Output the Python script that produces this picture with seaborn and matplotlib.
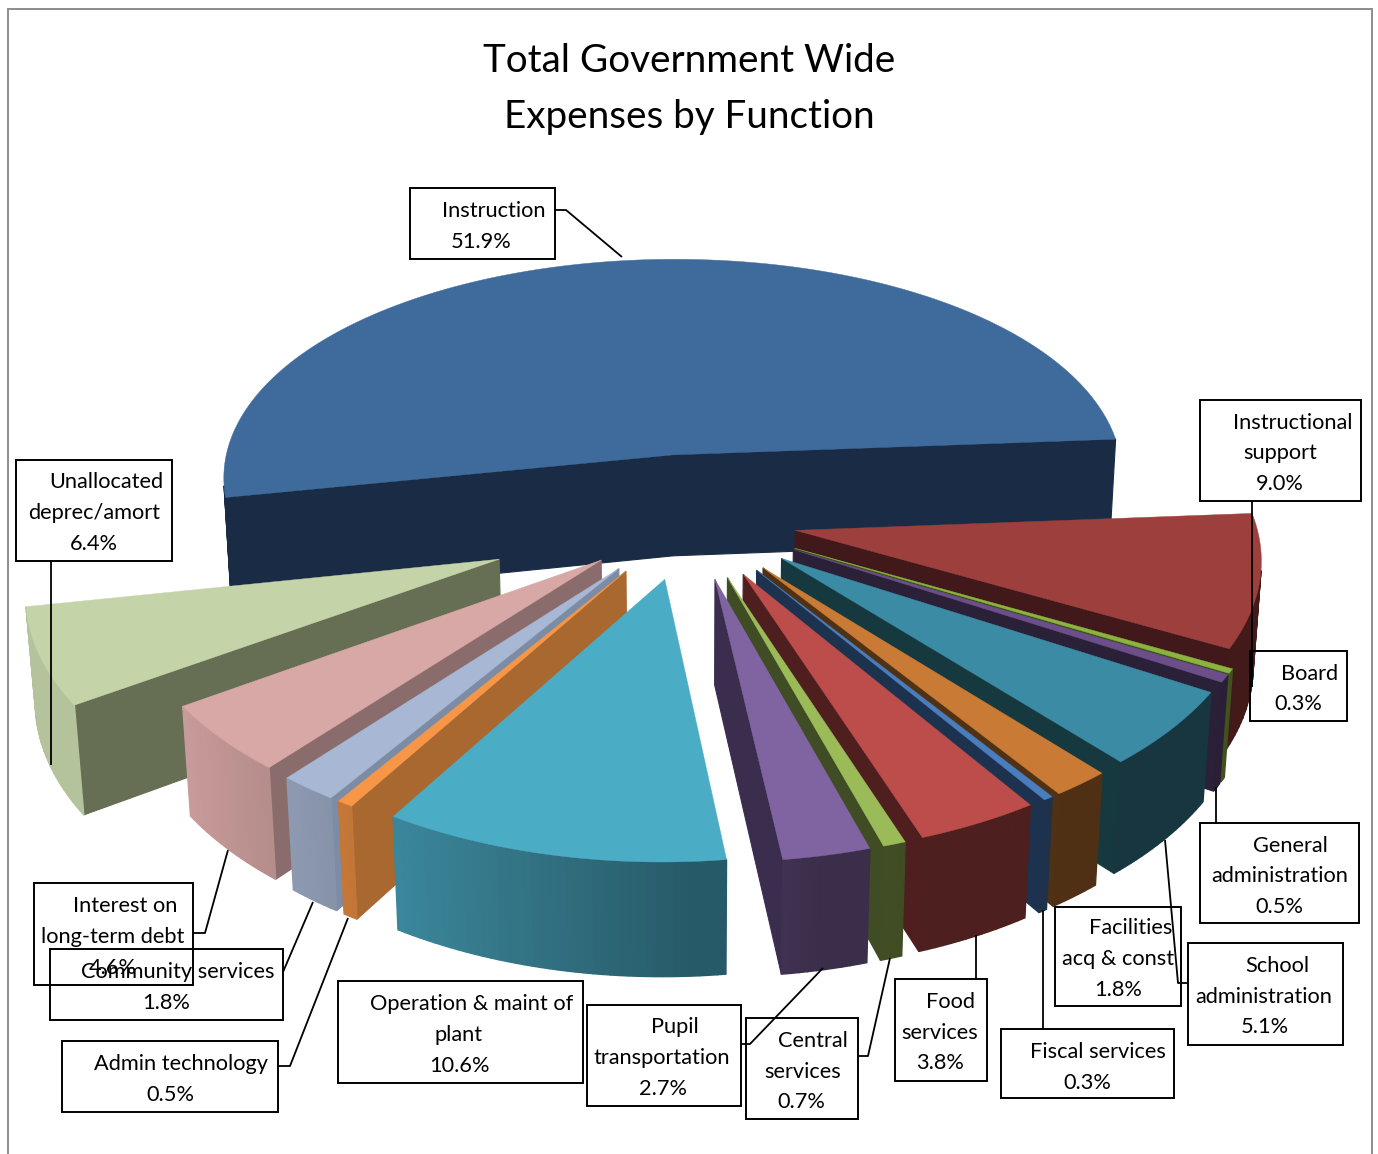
import numpy as np
import matplotlib
matplotlib.use("Agg")
import matplotlib.pyplot as plt
from matplotlib.patches import Polygon, Rectangle
import seaborn as sns

# ---- data -----------------------------------------------------------------
functions = ["Instruction", "Instructional support", "Board", "General administration",
             "School administration", "Facilities acq & const", "Fiscal services",
             "Food services", "Central services", "Pupil transportation",
             "Operation & maint of plant", "Admin technology", "Community services",
             "Interest on long-term debt", "Unallocated deprec/amort"]
shares = [51.9, 9.0, 0.3, 0.5, 5.1, 1.8, 0.3, 3.8, 0.7, 2.7, 10.6, 0.5, 1.8, 4.6, 6.4]
label_lines = [["Instruction"], ["Instructional", "support"], ["Board"],
               ["General", "administration"], ["School", "administration"],
               ["Facilities", "acq & const"], ["Fiscal services"], ["Food", "services"],
               ["Central", "services"], ["Pupil", "transportation"],
               ["Operation & maint of", "plant"], ["Admin technology"],
               ["Community services"], ["Interest on", "long-term debt"],
               ["Unallocated", "deprec/amort"]]

# ---- styling --------------------------------------------------------------
top_colors = ["#3e6a9c", "#9c3f3d", "#8ab33f", "#6b4e8a", "#3a8ba3", "#c97a35", "#4a7dbd",
              "#bd4d4b", "#9bbb59", "#8064a2", "#4bacc6", "#f79646", "#a8b8d4", "#d8a8a6",
              "#c4d4a8"]
cut_colors = ["#1a2c45", "#42191a", "#3f4d23", "#2a2037", "#16383f", "#4f3115", "#1c324e",
              "#4f1e1e", "#3f4c24", "#3b2d4d", "#255a6b", "#a86830", "#7c8ca4", "#8a6c6c",
              "#666e53"]
explode = [132, 107, 118, 118, 118, 118, 118, 118, 118, 118, 118, 118, 118, 118, 203]

START_DEG = -101.0
CX, CY, RADIUS, THICK = 690.0, 519.0, 460.0, 105.0
TILT, DIST, DROP, WIDEN = 0.507, 3850.0, 0.6, 0.87

sns.set_theme(style="white")
plt.rcParams["font.family"] = ["Lato", "DejaVu Sans"]
top_palette = sns.color_palette(top_colors)
cut_palette = sns.color_palette(cut_colors)


def project(x, y, z):
    """Perspective view of a ground point; z is 0 on top and negative below."""
    depth = 1.0 + (y - DROP * z) / DIST
    return CX + x / depth ** WIDEN, CY - (y * TILT + z) / depth


def cross(a, b, c):
    return (b[0] - a[0]) * (c[1] - b[1]) - (b[1] - a[1]) * (c[0] - b[0])


def wall_tone(theta, base, cut, lit):
    """Outer rim colour: lit on the west, falling to the cut-face tone on the east."""
    if not lit:
        return cut
    f = np.clip(0.55 - 0.45 * np.sin(theta), 0.0, 0.92)
    floor = np.mean(cut) / max(np.mean(base), 1e-3)
    f = max(f, floor)
    return tuple(np.clip(np.array(base) * f, 0, 1))


def draw_slice(ax, a, b, offset, base, cut, lit=True):
    mid = 0.5 * (a + b)
    ox, oy = offset * np.sin(mid), offset * np.cos(mid)
    thetas = np.linspace(a, b, max(3, int(np.degrees(b - a)) + 2))
    xs = ox + RADIUS * np.sin(thetas)
    ys = oy + RADIUS * np.cos(thetas)

    apex_t, apex_b = project(ox, oy, 0), project(ox, oy, -THICK)
    rim_t = [project(x, y, 0) for x, y in zip(xs, ys)]
    rim_b = [project(x, y, -THICK) for x, y in zip(xs, ys)]

    # radial cut faces
    if cross(apex_t, rim_t[0], rim_b[0]) < 0:
        ax.add_patch(Polygon([apex_t, rim_t[0], rim_b[0], apex_b], fc=cut, ec=cut, lw=0.8, zorder=1))
    if cross(apex_t, rim_t[-1], rim_b[-1]) > 0:
        ax.add_patch(Polygon([apex_t, rim_t[-1], rim_b[-1], apex_b], fc=cut, ec=cut, lw=0.8, zorder=1))
    # outer rim, facet by facet
    for i in range(len(thetas) - 1):
        if cross(rim_t[i], rim_t[i + 1], rim_b[i + 1]) < 0:
            tone = wall_tone(0.5 * (thetas[i] + thetas[i + 1]), base, cut, lit)
            ax.add_patch(Polygon([rim_t[i], rim_t[i + 1], rim_b[i + 1], rim_b[i]],
                                 fc=tone, ec=tone, lw=1.0, zorder=1))
    # top face
    ax.add_patch(Polygon([apex_t] + rim_t, fc=base, ec=base, lw=0.3, zorder=1))


fig = plt.figure(figsize=(13.78, 11.54), dpi=100, facecolor="white")
ax = fig.add_axes([0, 0, 1, 1])
ax.set_xlim(0, 1378)
ax.set_ylim(1154, 0)
ax.axis("off")

ax.add_patch(Rectangle((8, 9), 1364, 1160, fc="white", ec="#8c8c8c", lw=1.4, zorder=0))

edges = np.radians(START_DEG + np.concatenate([[0.0], np.cumsum(shares)]) * 3.6)
# back slice first, then inward from both sides towards the viewer
paint_order = [0, 1, 2, 3, 4, 5, 6, 7, 8, 9, 14, 13, 12, 11, 10]
for i in paint_order:
    draw_slice(ax, edges[i], edges[i + 1], explode[i], top_palette[i], cut_palette[i], lit=i != 0)

ax.text(689, 61, "Total Government Wide", ha="center", va="center", fontsize=27.8, color="black")
ax.text(689, 117, "Expenses by Function", ha="center", va="center", fontsize=27.8, color="black")

# callout boxes: left, top, right, bottom
boxes = [(410, 188, 555, 259), (1200, 400, 1361, 501), (1250, 651, 1347, 721),
         (1200, 823, 1359, 923), (1188, 943, 1343, 1045), (1055, 907, 1181, 1006),
         (1001, 1029, 1174, 1098), (895, 979, 987, 1081), (746, 1018, 858, 1119),
         (587, 1005, 741, 1106), (338, 981, 583, 1083), (62, 1041, 278, 1112),
         (50, 949, 283, 1020), (34, 883, 193, 985), (16, 460, 172, 561)]
# centre of each text line inside a box
line_xy = [[(494, 211), (481, 242)], [(1293, 423), (1280, 453), (1280, 484)],
           [(1310, 674), (1298, 704)], [(1290, 846), (1280, 876), (1279, 907)],
           [(1277, 966), (1264, 997), (1265, 1027)], [(1131, 928), (1118, 959), (1118, 990)],
           [(1098, 1052), (1087, 1083)], [(951, 1002), (940, 1033), (940, 1063)],
           [(813, 1041), (803, 1072), (801, 1102)], [(675, 1027), (662, 1058), (663, 1089)],
           [(472, 1004), (459, 1035), (459, 1066)], [(181, 1064), (170, 1095)],
           [(178, 972), (166, 1003)], [(125, 906), (113, 937), (113, 968)],
           [(106, 482), (94, 513), (94, 544)]]
leaders = [[(555, 210), (566, 210), (622, 257)], [(1252, 501), (1252, 687)], None,
           [(1216, 823), (1216, 787)], [(1188, 983), (1178, 983), (1165, 840)], None,
           [(1043, 1029), (1043, 910)], [(976, 979), (976, 935)],
           [(858, 1056), (868, 1056), (890, 958)], [(741, 1044), (750, 1044), (823, 968)],
           None, [(278, 1066), (290, 1066), (348, 918)], [(283, 972), (313, 902)],
           [(193, 933), (205, 933), (228, 850)], [(51, 561), (51, 765)]]

for lines, share, box, centres, leader in zip(label_lines, shares, boxes, line_xy, leaders):
    x0, y0, x1, y1 = box
    ax.add_patch(Rectangle((x0, y0), x1 - x0, y1 - y0, fc="none", ec="black", lw=1.4, zorder=3))
    for text, (tx, ty) in zip(lines + [f"{share:.1f}%"], centres):
        ax.text(tx, ty, text, ha="center", va="center", fontsize=15.7, color="black", zorder=4)
    if leader:
        ax.plot(*zip(*leader), color="black", lw=1.3, zorder=3, solid_capstyle="butt")

fig.savefig("out.png", dpi=100, facecolor="white")
